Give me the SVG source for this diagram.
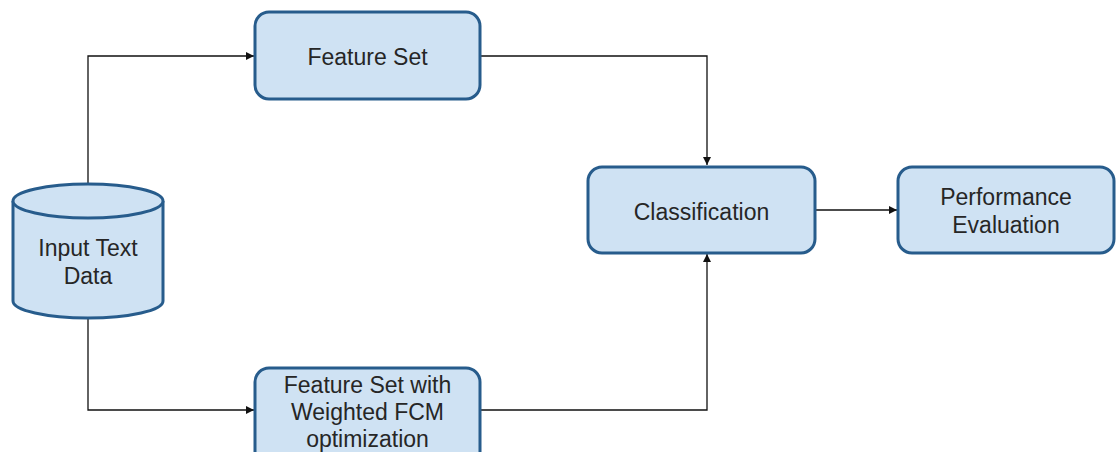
<svg xmlns="http://www.w3.org/2000/svg" width="1116" height="452" viewBox="0 0 1116 452">
<defs>
<style>
.box{fill:#cfe2f3;stroke:#275c8c;stroke-width:3}
.t{font-family:"Liberation Sans",Arial,sans-serif;font-size:23px;fill:#262626;text-anchor:middle}
.c{fill:none;stroke:#111;stroke-width:1.3}
</style>
<marker id="ah" viewBox="0 0 10 10" refX="10" refY="5" markerWidth="8" markerHeight="8" markerUnits="userSpaceOnUse" orient="auto">
<path d="M0,0 L10,5 L0,10 z" fill="#111"/>
</marker>
</defs>
<rect width="1116" height="452" fill="#ffffff"/>
<g id="connectors">
<path class="c" d="M88,185 V56 H254" marker-end="url(#ah)"/>
<path class="c" d="M88,318 V410 H254" marker-end="url(#ah)"/>
<path class="c" d="M480,56 H707 V165" marker-end="url(#ah)"/>
<path class="c" d="M480,410 H707 V254" marker-end="url(#ah)"/>
<path class="c" d="M815,210 H897" marker-end="url(#ah)"/>
</g>
<g id="input">
<path class="box" d="M13,201 V301 A75,17 0 0 0 163,301 V201 A75,17 0 0 0 13,201 Z"/>
<path class="box" d="M13,201 A75,17 0 0 0 163,201"/>
<text class="t" x="88" y="256">Input Text</text>
<text class="t" x="88" y="284">Data</text>
</g>
<g id="featureset">
<rect class="box" x="255" y="12" width="225" height="87" rx="14"/>
<text class="t" x="367.5" y="65">Feature Set</text>
</g>
<g id="fcm">
<rect class="box" x="255" y="368" width="225" height="100" rx="14"/>
<text class="t" x="367.5" y="393">Feature Set with</text>
<text class="t" x="367.5" y="420">Weighted FCM</text>
<text class="t" x="367.5" y="447">optimization</text>
</g>
<g id="classification">
<rect class="box" x="588" y="167" width="227" height="86" rx="14"/>
<text class="t" x="701.5" y="220">Classification</text>
</g>
<g id="performance">
<rect class="box" x="898" y="167" width="216" height="86" rx="14"/>
<text class="t" x="1006" y="205">Performance</text>
<text class="t" x="1006" y="233">Evaluation</text>
</g>
</svg>
